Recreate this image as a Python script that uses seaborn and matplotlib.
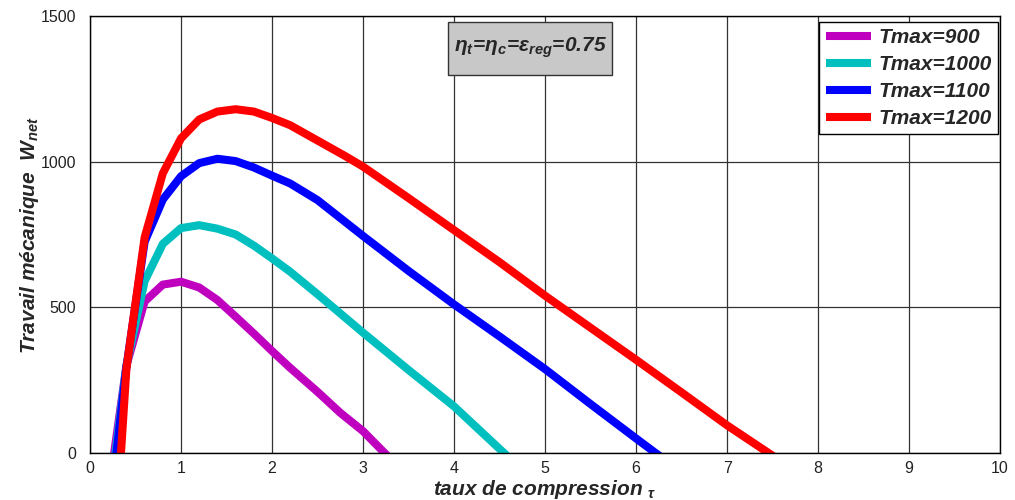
import matplotlib
matplotlib.use("Agg")
import matplotlib.pyplot as plt
from matplotlib.patches import Rectangle
import seaborn as sns
import pandas as pd

# ---- data ----
labels = ["Tmax=900", "Tmax=1000", "Tmax=1100", "Tmax=1200"]
colors = ["#bf00bf", "#00bfbf", "#0000ff", "#ff0000"]

x_900 = [0.2, 0.4, 0.6, 0.8, 1.0, 1.2, 1.4, 1.6, 1.8, 2.0, 2.2, 2.5, 2.75, 3.0, 3.3]
w_900 = [-144, 300, 520, 578, 588, 568, 525, 468, 410, 350, 292, 210, 138, 75, -20]

x_1000 = [0.2, 0.4, 0.6, 0.8, 1.0, 1.2, 1.4, 1.6, 1.8, 2.0, 2.2, 2.5, 3.0, 3.5, 4.0, 4.6]
w_1000 = [-200, 300, 590, 718, 772, 782, 770, 750, 712, 668, 622, 545, 413, 285, 160, -15]

x_1100 = [0.2, 0.4, 0.6, 0.8, 1.0, 1.2, 1.4, 1.6, 1.8, 2.0, 2.2, 2.5, 3.0, 3.5, 4.0, 4.5, 5.0, 5.5, 6.0, 6.3]
w_1100 = [-241, 295, 725, 870, 950, 995, 1010, 1002, 980, 952, 925, 868, 745, 625, 510, 400, 288, 168, 50, -20]

x_1200 = [0.2, 0.4, 0.6, 0.8, 1.0, 1.2, 1.4, 1.6, 1.8, 2.0, 2.2, 2.4, 2.6, 2.8, 3.0, 3.5, 4.0, 4.5, 5.0, 5.5, 6.0, 6.5, 7.0, 7.6]
w_1200 = [-677, 290, 740, 960, 1080, 1145, 1172, 1180, 1172, 1150, 1125, 1090, 1055, 1020, 983, 875, 765, 655, 540, 430, 320, 208, 95, -30]

xticks = list(range(0, 11))
yticks = [0, 500, 1000, 1500]

frames = []
for lab, xs, ws in zip(labels, [x_900, x_1000, x_1100, x_1200], [w_900, w_1000, w_1100, w_1200]):
    frames.append(pd.DataFrame({"tau": xs, "W": ws, "serie": lab}))
df = pd.concat(frames, ignore_index=True)

sns.set_style("white")
plt.rcParams["font.family"] = ["Liberation Sans", "DejaVu Sans"]
plt.rcParams["mathtext.fontset"] = "custom"
plt.rcParams["mathtext.rm"] = "Liberation Sans"
plt.rcParams["mathtext.it"] = "Liberation Sans:italic"
plt.rcParams["mathtext.bf"] = "Liberation Sans:bold"
plt.rcParams["mathtext.bfit"] = "Liberation Sans:bold:italic"
plt.rcParams["mathtext.default"] = "bfit"

fig = plt.figure(figsize=(10.15, 5.0), dpi=100)
ax = fig.add_axes([0.0887, 0.094, 0.8966, 0.874])

sns.lineplot(data=df, x="tau", y="W", hue="serie", hue_order=labels,
             palette=colors, estimator=None, sort=False, linewidth=5.8, ax=ax)

ax.set_xlim(0, 10)
ax.set_ylim(0, 1500)
ax.set_xticks(xticks)
ax.set_yticks(yticks)
ax.grid(True, color="#333333", linewidth=0.9, linestyle="-")
ax.set_axisbelow(True)
for s in ax.spines.values():
    s.set_color("black")
    s.set_linewidth(1.0)
ax.tick_params(direction="in", length=4, width=0.8, labelsize=11.5, color="black",
               labelcolor="#222222")
ax.tick_params(axis="y", pad=10)
ax.tick_params(axis="x", pad=6)

ax.set_xlabel(r"taux de compression $_{\tau}$", fontsize=15, fontweight="bold",
              fontstyle="italic", labelpad=1)
ax.set_ylabel(r"Travail mécanique  $W_{net}$", fontsize=15, fontweight="bold",
              fontstyle="italic", labelpad=0)

leg = ax.legend(loc="upper right", bbox_to_anchor=(0.998, 0.986), borderaxespad=0,
                frameon=True, fancybox=False, edgecolor="black", framealpha=1,
                prop={"weight": "bold", "style": "italic", "size": 15},
                handlelength=2.2, handletextpad=0.35, borderpad=0.3, labelspacing=0.38)
leg.get_frame().set_linewidth(1.0)
for h in leg.get_lines():
    h.set_solid_capstyle("butt")

ax.add_patch(Rectangle((0.3934, 0.865), 0.1802, 0.121, transform=ax.transAxes,
                       facecolor="#c8c8c8", edgecolor="#333333", linewidth=1.0, zorder=5))
ax.text(0.4835, 0.927, r"$\eta_t$=$\eta_c$=$\varepsilon_{reg}$=0.75", transform=ax.transAxes,
        ha="center", va="center", fontsize=15, fontweight="bold", fontstyle="italic",
        zorder=6)

fig.savefig("out.png", dpi=100)
